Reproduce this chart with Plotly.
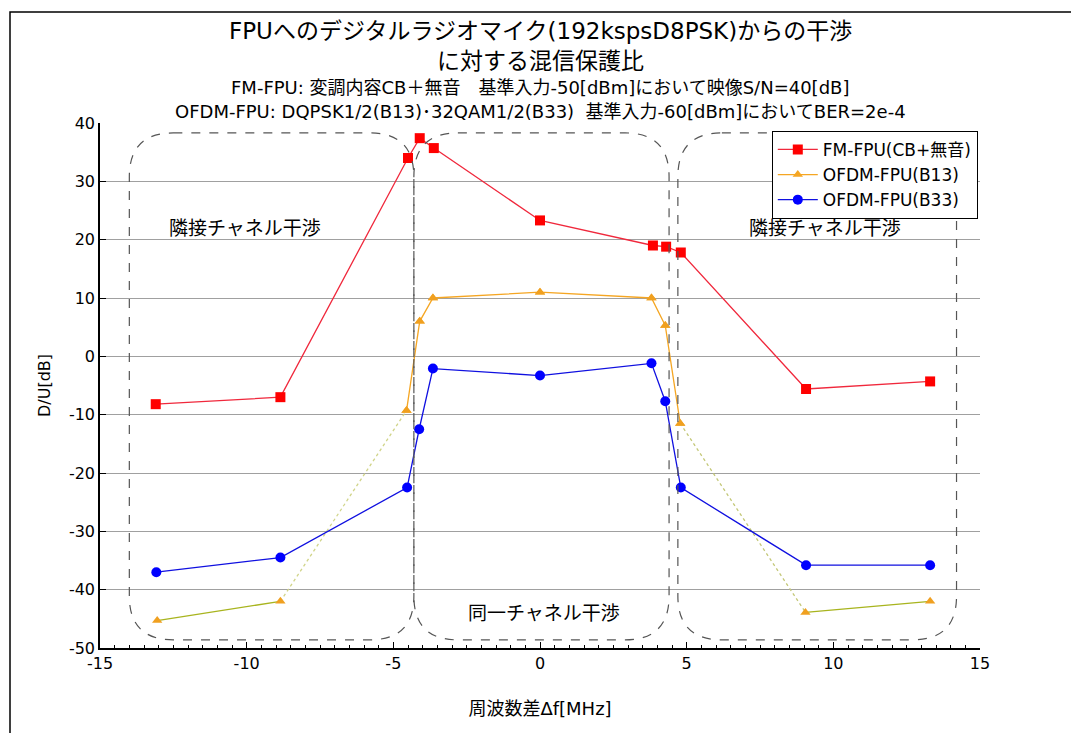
import plotly.graph_objects as go

# ---- data ----
x_fm = [-13.1, -8.85, -4.5, -4.1, -3.62, 0.0, 3.85, 4.3, 4.8, 9.07, 13.3]
y_fm = [-8.2, -7.0, 34.0, 37.4, 35.7, 23.3, 19.0, 18.8, 17.8, -5.6, -4.3]

x_b13 = [-13.05, -8.85, -4.55, -4.1, -3.65, 0.0, 3.8, 4.27, 4.78, 9.05, 13.3]
y_b13 = [-45.3, -42.0, -9.3, 6.0, 10.0, 11.0, 10.0, 5.3, -11.5, -43.9, -42.0]

x_b33 = [-13.08, -8.85, -4.53, -4.12, -3.65, 0.0, 3.8, 4.27, 4.8, 9.07, 13.3]
y_b33 = [-37.0, -34.5, -22.5, -12.5, -2.1, -3.3, -1.2, -7.7, -22.5, -35.8, -35.8]

series_names = ["FM-FPU(CB+無音)", "OFDM-FPU(B13)", "OFDM-FPU(B33)"]
x_ticks = [-15, -10, -5, 0, 5, 10, 15]
y_ticks = [-50, -40, -30, -20, -10, 0, 10, 20, 30, 40]

regions = [(-14.0, -4.3), (-4.3, 4.4), (4.7, 14.2)]
region_labels = ["隣接チャネル干渉", "同一チャネル干渉", "隣接チャネル干渉"]

FONT = "DejaVu Sans, Noto Sans CJK JP"
OFF = 8  # page body margin

fig = go.Figure()

fig.add_trace(go.Scatter(x=x_fm, y=y_fm, name=series_names[0], mode="lines+markers",
                         line=dict(color="#f0283c", width=1.3),
                         marker=dict(symbol="square", size=10, color="#ff0000")))
# B13: orange middle section (legend entry)
fig.add_trace(go.Scatter(x=x_b13[2:9], y=y_b13[2:9], name=series_names[1], mode="lines+markers",
                         line=dict(color="#f5a623", width=1.3),
                         marker=dict(symbol="triangle-up", size=9, color="#f5a623")))
# B13 outer segments (yellow-green / faint as in reference)
fig.add_trace(go.Scatter(x=x_b13[0:2], y=y_b13[0:2], mode="lines",
                         line=dict(color="#a8b41e", width=1.4), showlegend=False, hoverinfo="skip"))
fig.add_trace(go.Scatter(x=x_b13[1:3], y=y_b13[1:3], mode="lines",
                         line=dict(color="#d0d488", width=1.3, dash="dot"), showlegend=False, hoverinfo="skip"))
fig.add_trace(go.Scatter(x=x_b13[8:10], y=y_b13[8:10], mode="lines",
                         line=dict(color="#c4c878", width=1.3, dash="dot"), showlegend=False, hoverinfo="skip"))
fig.add_trace(go.Scatter(x=x_b13[9:11], y=y_b13[9:11], mode="lines",
                         line=dict(color="#a8b41e", width=1.4), showlegend=False, hoverinfo="skip"))
fig.add_trace(go.Scatter(x=x_b13, y=y_b13, mode="markers", showlegend=False, hoverinfo="skip",
                         marker=dict(symbol="triangle-up", size=9, color="#f0a020")))
fig.add_trace(go.Scatter(x=x_b33, y=y_b33, name=series_names[2], mode="lines+markers",
                         line=dict(color="#1010e0", width=1.3),
                         marker=dict(symbol="circle", size=10, color="#0000ff")))


def rounded_rect(x0, x1, y0, y1, rx, ry):
    return (f"M {x0+rx},{y1} L {x1-rx},{y1} Q {x1},{y1} {x1},{y1-ry} "
            f"L {x1},{y0+ry} Q {x1},{y0} {x1-rx},{y0} "
            f"L {x0+rx},{y0} Q {x0},{y0} {x0},{y0+ry} "
            f"L {x0},{y1-ry} Q {x0},{y1} {x0+rx},{y1} Z")

shapes = []
for (a, b) in regions:
    shapes.append(dict(type="path", xref="x", yref="y",
                       path=rounded_rect(a, b, -48.6, 38.3, 1.5, 7.5),
                       line=dict(color="#555555", width=1.2, dash="dash")))
# outer chart frame
shapes.append(dict(type="rect", xref="paper", yref="paper",
                   x0=(10 - 100) / 880, x1=(1078 - 100) / 880,
                   y0=(648 - 740) / 525, y1=(648 - 12) / 525,
                   line=dict(color="#000000", width=1.5)))
fig.update_layout(shapes=shapes)

annotations = []
label_pos = [(-10.05, 22.0), (0.15, -44.0), (9.7, 22.0)]
for (lx, ly), t in zip(label_pos, region_labels):
    annotations.append(dict(x=lx, y=ly, xref="x", yref="y", text=t, showarrow=False,
                            font=dict(size=19, color="#000000", family=FONT)))

titles = [("FPUへのデジタルラジオマイク(192kspsD8PSK)からの干渉", 31, 23),
          ("に対する混信保護比", 61, 23),
          ("FM-FPU: 変調内容CB＋無音　基準入力-50[dBm]において映像S/N=40[dB]", 87, 18),
          ("OFDM-FPU: DQPSK1/2(B13)･32QAM1/2(B33)  基準入力-60[dBm]においてBER=2e-4", 112, 18)]
for t, py, fs in titles:
    annotations.append(dict(x=0.5, y=(648 - py) / 525, xref="paper", yref="paper", text=t,
                            showarrow=False, yanchor="middle",
                            font=dict(size=fs, color="#000000", family=FONT)))
fig.update_layout(annotations=annotations)

fig.update_layout(
    width=1079, height=733,
    margin=dict(l=100 - OFF, r=1079 - (980 - OFF), t=123 - OFF, b=733 - (648 - OFF)),
    paper_bgcolor="white", plot_bgcolor="white",
    font=dict(family=FONT, color="#000000"),
    showlegend=True,
    legend=dict(x=0.9975, y=0.985, xanchor="right", yanchor="top",
                bgcolor="white", bordercolor="#000000", borderwidth=1,
                font=dict(size=17, family=FONT), tracegroupgap=0, itemwidth=40),
    xaxis=dict(range=[-15, 15], tickvals=x_ticks, ticktext=[str(v) for v in x_ticks],
               showgrid=False, zeroline=False, showline=True, linecolor="#000000", linewidth=1.5,
               mirror=False, ticks="inside", ticklen=6, tickcolor="#000000",
               minor=dict(ticks="inside", ticklen=3, dtick=0.5, tickcolor="#000000"),
               tickfont=dict(size=16, family=FONT),
               title=dict(text="周波数差Δf[MHz]", font=dict(size=18, family=FONT), standoff=30)),
    yaxis=dict(range=[-50, 40], tickvals=y_ticks, ticktext=[str(v) for v in y_ticks],
               showgrid=True, gridcolor="#a0a0a0", gridwidth=1, zeroline=False,
               showline=True, linecolor="#000000", linewidth=1.5,
               ticks="inside", ticklen=6, tickcolor="#000000",
               tickfont=dict(size=16, family=FONT),
               title=dict(text="D/U[dB]", font=dict(size=16, family=FONT), standoff=14)),
)

fig.write_html("out.html")
